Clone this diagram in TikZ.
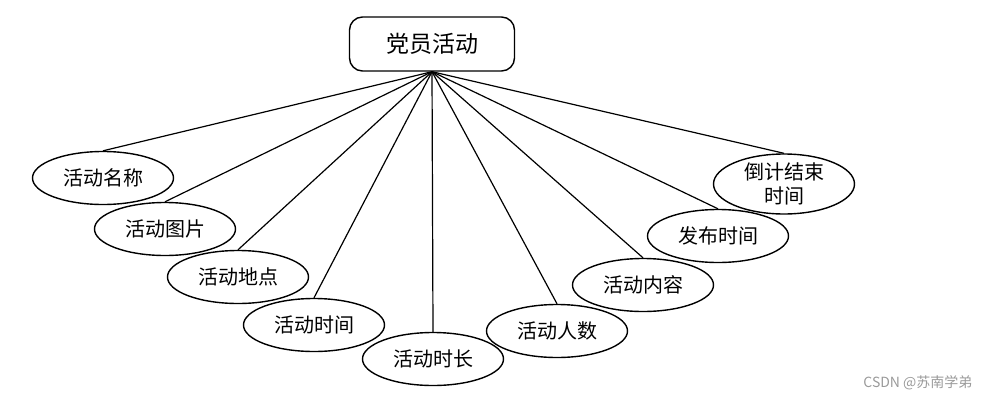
\documentclass[tikz,border=0pt]{standalone}
\usepackage{fontspec}
\setmainfont{Noto Sans CJK SC}
\newfontfamily\cjkfont{Noto Sans CJK SC}
\usetikzlibrary{shapes.geometric}
\definecolor{wmgrey}{HTML}{9A9A9A}
\begin{document}
\begin{tikzpicture}[x=1pt,y=-1pt,
  attr/.style={draw, line width=1.4pt, ellipse, minimum width=141pt, minimum height=53pt, inner sep=0pt, align=center, font=\cjkfont\fontsize{20}{24}\selectfont},
  entity/.style={draw, line width=1.4pt, rounded corners=13pt, minimum width=165pt, minimum height=54pt, inner sep=0pt, font=\cjkfont\fontsize{23}{27}\selectfont},
  link/.style={line width=1.2pt}]
\useasboundingbox (0,0) rectangle (990,402);
\node[entity] (e) at (432,44) {党员活动};
\node[attr] (a1) at (103,178) {活动名称};
\node[attr] (a2) at (165,229) {活动图片};
\node[attr] (a3) at (238,277) {活动地点};
\node[attr] (a4) at (314,325) {活动时间};
\node[attr] (a5) at (433,359) {活动时长};
\node[attr] (a6) at (557,331) {活动人数};
\node[attr] (a7) at (643,285) {活动内容};
\node[attr] (a8) at (718,236) {发布时间};
\node[attr, font=\cjkfont\fontsize{20}{24}\selectfont] (a9) at (784,184) {倒计结束\\时间};
\foreach \n in {a1,a2,a3,a4,a5,a6,a7,a8,a9}
  \draw[link] (e.south) -- (\n.north);
\node[text=wmgrey, font=\cjkfont\fontsize{14}{16}\selectfont, anchor=east] (wm) at (976,383) {CSDN @苏南学弟};
\end{tikzpicture}
\end{document}
